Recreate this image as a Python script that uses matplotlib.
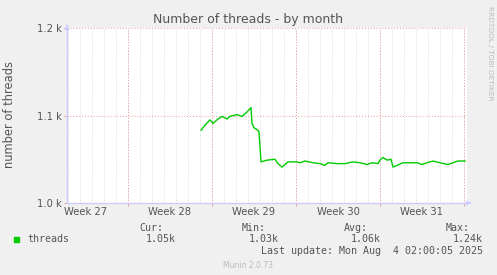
import numpy as np
import matplotlib.pyplot as plt

# x positions in days from the left edge of the graph, values in threads
days = [11.17, 11.5, 11.92, 12.17, 12.58, 12.92, 13.33, 13.58, 14.17, 14.58,
        15.0, 15.33, 15.42, 15.58, 15.92, 16.0, 16.17, 16.67, 17.33, 17.58,
        17.92, 18.42, 19.17, 19.42, 19.83, 20.5, 21.08, 21.5, 21.75, 22.5,
        23.17, 23.83, 24.42, 25.0, 25.42, 25.92, 26.08, 26.33, 26.67, 27.0,
        27.17, 27.5, 28.0, 28.75, 29.17, 29.58, 30.0, 30.5, 31.08, 31.75,
        32.17, 32.58, 33.17]
threads = [1083, 1089, 1095, 1091, 1096, 1099, 1096, 1099, 1101, 1099,
           1104, 1109, 1091, 1086, 1083, 1081, 1047, 1049, 1050, 1045,
           1041, 1047, 1047, 1046, 1048, 1046, 1045, 1043, 1046, 1045,
           1045, 1047, 1046, 1044, 1046, 1045, 1049, 1052, 1049, 1050,
           1041, 1043, 1046, 1046, 1046, 1044, 1046, 1048, 1046, 1044,
           1046, 1048, 1048]

week_starts = [5.083, 12.083, 19.083, 26.083, 33.083]
week_labels = ['Week 27', 'Week 28', 'Week 29', 'Week 30', 'Week 31']
yticks = [1000, 1100, 1200]
ytick_labels = ['1.0 k', '1.1 k', '1.2 k']

legend_cols = ['Cur:', 'Min:', 'Avg:', 'Max:']
legend_vals = ['1.05k', '1.03k', '1.06k', '1.24k']

bg = '#f0f0f0'
fig = plt.figure(figsize=(4.97, 2.75), dpi=100, facecolor=bg)
ax = fig.add_axes([67 / 497, 1 - 203 / 275, 400 / 497, 175 / 275])
ax.set_facecolor('white')
ax.set_xlim(0, 400 / 12)
ax.set_ylim(1000, 1200)

# daily minor grid
for d in np.arange(week_starts[0] - 5, 400 / 12, 1.0):
    ax.axvline(d, color='#cccccc', lw=0.6, ls=(0, (1, 2)), zorder=1)
for w in week_starts:
    ax.axvline(w, color='#e8a0a0', lw=0.7, ls=(0, (1, 2)), zorder=1)
for y in yticks[1:]:
    ax.axhline(y, color='#e8a0a0', lw=0.7, ls=(0, (1, 2)), zorder=1)

ax.plot(days, threads, color='#00cc00', lw=1.0, zorder=3)

for s in ax.spines.values():
    s.set_visible(False)
ax.axhline(1000, color='#ccccff', lw=1.0, zorder=2, clip_on=False)
ax.axvline(0, color='#ccccff', lw=1.0, zorder=2, clip_on=False)
ax.annotate('', xy=(1.018, 0), xytext=(1.0, 0), xycoords='axes fraction',
            arrowprops=dict(arrowstyle='-|>', color='#ccccff', lw=0.8, mutation_scale=7))
ax.annotate('', xy=(0, 1.035), xytext=(0, 1.0), xycoords='axes fraction',
            arrowprops=dict(arrowstyle='-|>', color='#ccccff', lw=0.8, mutation_scale=7))

# small red ticks under the axis at week starts
ax.set_xticks(week_starts, minor=True)
ax.tick_params(axis='x', which='minor', length=2, color='#e8a0a0', width=0.7)
ax.set_xticks([w - 3.5 for w in week_starts])
ax.set_xticklabels(week_labels, fontsize=7.2, color='#555555')
ax.set_yticks(yticks)
ax.set_yticklabels(ytick_labels, fontsize=7.2, color='#555555')
ax.tick_params(axis='x', which='major', length=0, pad=3)
ax.tick_params(axis='y', length=2, color='#e8a0a0', width=0.7, pad=2)

fig.text(248 / 497, 1 - 19 / 275, 'Number of threads - by month', ha='center', va='center',
         fontsize=9, color='#555555')
fig.text(10 / 497, 1 - 115 / 275, 'number of threads', rotation=90, ha='center',
         va='center', fontsize=8.3, color='#555555')
fig.text(490 / 497, 1 - 53 / 275, 'RRDTOOL / TOBI OETIKER', rotation=270, ha='center',
         va='center', fontsize=5.3, color='#bbbbbb')

mono = dict(family='DejaVu Sans Mono', fontsize=7.2, color='#555555')
fig.patches.append(plt.Rectangle((14 / 497, 1 - 242 / 275), 5 / 497, 5 / 275,
                                 transform=fig.transFigure, color='#00cc00'))
fig.text(27 / 497, 1 - 239.5 / 275, 'threads', ha='left', va='center', **mono)
col_right = [163, 266, 368, 470]
for cx, lab, val in zip(col_right, legend_cols, legend_vals):
    fig.text(cx / 497, 1 - 228 / 275, lab, ha='right', va='center', **mono)
    fig.text((cx + 13) / 497, 1 - 239.5 / 275, val, ha='right', va='center', **mono)
fig.text(483 / 497, 1 - 251 / 275, 'Last update: Mon Aug  4 02:00:05 2025', ha='right',
         va='center', **mono)
fig.text(248 / 497, 1 - 265 / 275, 'Munin 2.0.73', ha='center', va='center',
         fontsize=5.5, color='#bbbbbb')

fig.savefig('out.png', dpi=100, facecolor=bg)
